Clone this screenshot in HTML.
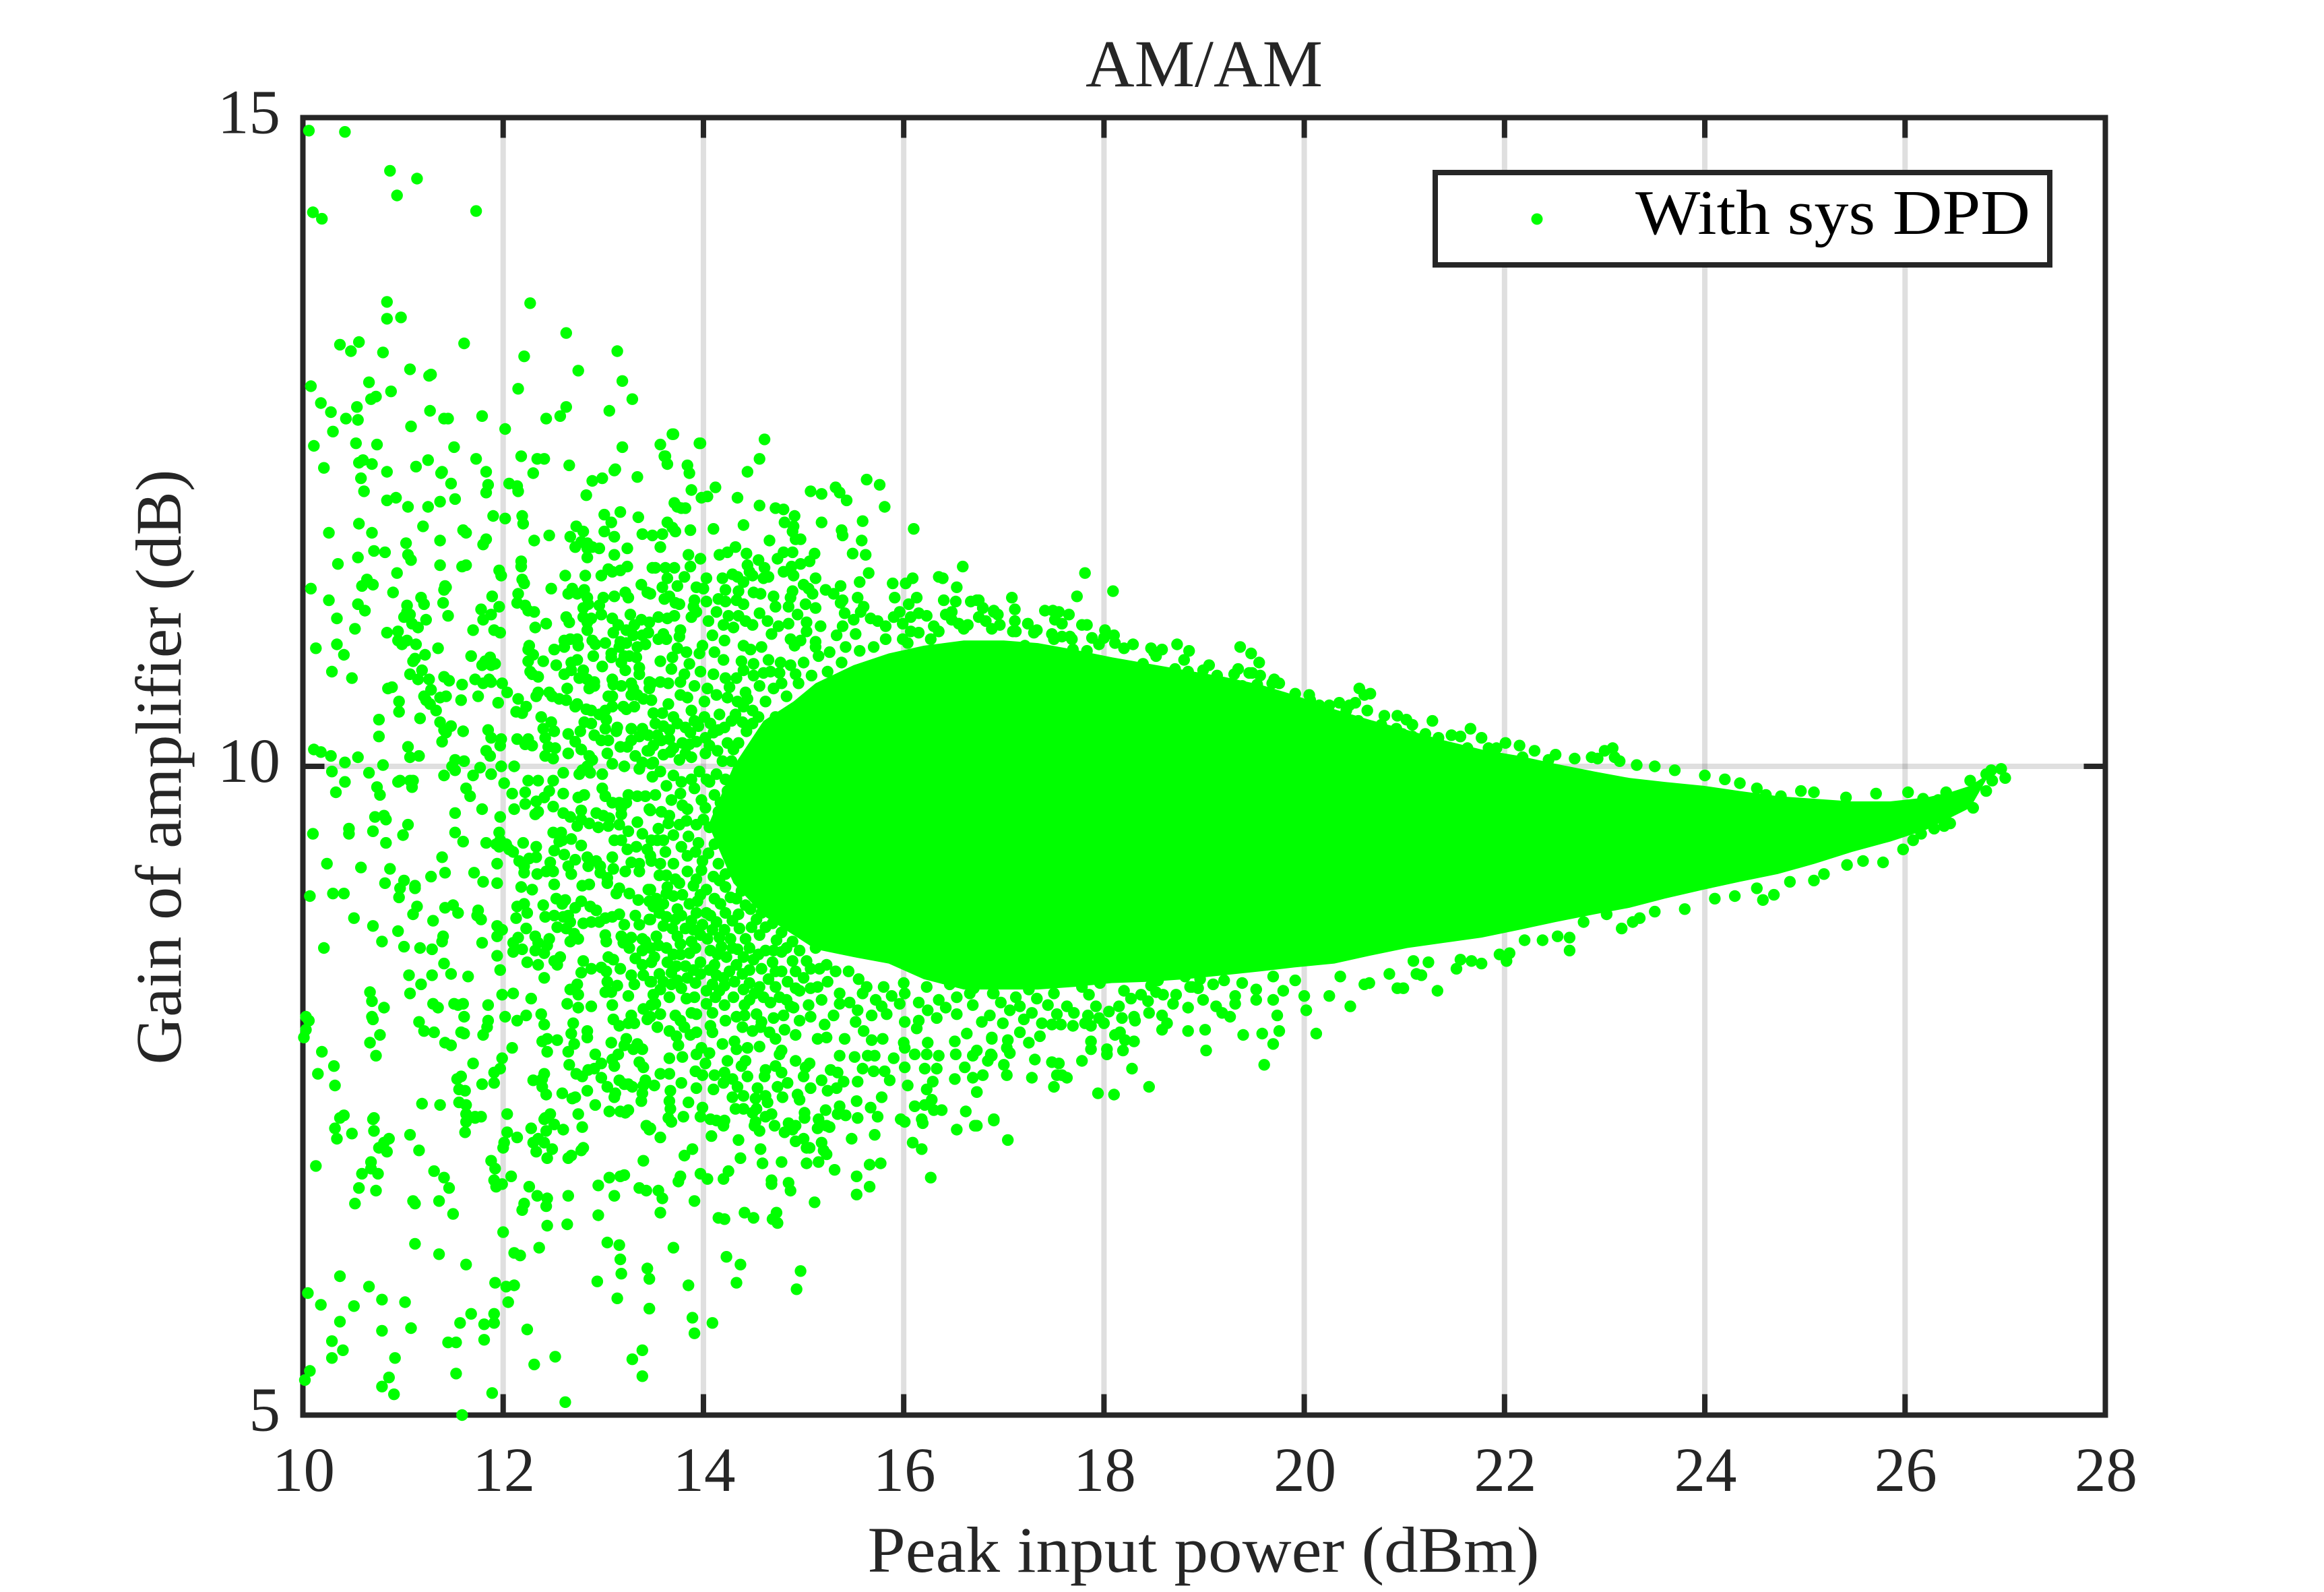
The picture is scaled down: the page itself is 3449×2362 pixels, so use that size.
<!DOCTYPE html>
<html lang="en">
<head>
<meta charset="utf-8">
<title>AM/AM</title>
<style>
html,body{margin:0;padding:0;background:#fff}
svg{display:block}
text{font-family:"Liberation Serif",serif;fill:#262626}
</style>
</head>
<body>
<svg id="chart" xmlns="http://www.w3.org/2000/svg" width="3449" height="2362" viewBox="0 0 3449 2362">
<rect x="0" y="0" width="3449" height="2362" fill="#fff"/>
<g id="grid"></g>
<rect x="449.5" y="174.5" width="2675" height="1925" fill="none" stroke="#262626" stroke-width="8"/>
<g id="ticks"></g>
<g id="tick-labels"></g>
<path id="core" fill="#00ff00" stroke="none"/>
<g id="points" fill="#00ff00"></g>
<text x="1787" y="128" font-size="100" text-anchor="middle" textLength="352" lengthAdjust="spacingAndGlyphs">AM/AM</text>
<text x="1786" y="2332" font-size="96" text-anchor="middle" textLength="997" lengthAdjust="spacingAndGlyphs">Peak input power (dBm)</text>
<text transform="translate(268,1138) rotate(-90)" font-size="96" text-anchor="middle" textLength="883" lengthAdjust="spacingAndGlyphs">Gain of amplifier (dB)</text>
<g>
<rect x="2130" y="256" width="912" height="137" fill="#fff" stroke="#262626" stroke-width="8"/>
<circle cx="2281" cy="325" r="8.5" fill="#00ff00"/>
<text x="2427" y="347" font-size="94" style="fill:#000" textLength="586" lengthAdjust="spacingAndGlyphs">With sys DPD</text>
</g>
</svg>
<script>
const xTicks=[10,12,14,16,18,20,22,24,26,28];
const xTickLabels=["10","12","14","16","18","20","22","24","26","28"];
const yTicks=[5,10,15];
const yTickLabels=["5","10","15"];
const coreX=[14.05,14.3,14.6,14.9,15.12,15.5,15.85,16.2,16.6,17.0,17.34,17.7,18.08,18.45,18.82,19.2,19.56,19.9,20.3,20.65,21.03,21.4,21.77,22.15,22.51,22.9,23.25,23.6,23.99,24.35,24.73,25.1,25.47,25.85,26.21,26.45,26.65,26.85,26.65,26.21,25.85,25.47,25.1,24.73,24.35,23.99,23.6,23.25,22.9,22.51,22.15,21.77,21.4,21.03,20.65,20.3,19.9,19.56,19.2,18.82,18.45,18.08,17.7,17.34,17.0,16.6,16.2,15.85,15.5,15.12,14.9,14.6,14.3];
const coreTop=[9.55,10.0,10.35,10.5,10.64,10.78,10.87,10.93,10.97,10.97,10.95,10.9,10.84,10.79,10.74,10.69,10.63,10.55,10.44,10.36,10.28,10.2,10.13,10.08,10.02,9.96,9.91,9.88,9.85,9.81,9.77,9.75,9.73,9.73,9.76,9.8,9.85,9.95];
const coreBottom=[9.68,9.51,9.42,9.34,9.25,9.17,9.11,9.05,8.98,8.91,8.86,8.8,8.74,8.68,8.64,8.6,8.54,8.48,8.45,8.42,8.39,8.36,8.34,8.33,8.3,8.28,8.28,8.28,8.36,8.48,8.53,8.59,8.7,8.85,9.1];

const topOutliers=[[10.06,14.9],[10.42,14.89],[10.87,14.59],[11.14,14.53],[10.94,14.4],[11.73,14.28],[10.1,14.27],[10.19,14.22],[10.84,13.58],[10.84,13.45],[10.98,13.46],[12.27,13.57],[12.63,13.34],[10.37,13.25],[10.56,13.27],[10.48,13.2],[10.8,13.19],[11.61,13.26],[12.21,13.16],[13.14,13.2],[12.75,13.05],[11.07,13.06],[11.28,13.02],[11.26,13.01],[10.66,12.96],[12.15,12.91],[13.19,12.97],[10.08,12.93],[10.88,12.89],[13.29,12.83],[10.18,12.8],[10.68,12.83],[10.73,12.85],[10.28,12.73],[10.54,12.77],[11.27,12.74],[12.63,12.77],[12.57,12.7],[13.06,12.74],[10.43,12.68],[10.55,12.67],[11.41,12.68],[11.45,12.68],[11.79,12.7],[12.43,12.68],[10.3,12.58],[11.08,12.62],[12.02,12.6],[13.69,12.56],[13.97,12.49],[13.57,12.48],[13.19,12.46],[11.51,12.46],[10.11,12.47],[10.53,12.49],[10.74,12.48],[13.62,12.39],[13.64,12.33],[13.84,12.32],[12.18,12.39],[12.34,12.37],[12.41,12.37],[12.66,12.32],[11.73,12.37],[11.25,12.36],[11.13,12.31],[10.56,12.34],[10.6,12.36],[10.69,12.33],[10.21,12.3],[10.84,12.27],[11.39,12.27],[11.83,12.27],[12.3,12.26],[13.12,12.29]];

const leftUpperBand=[[11.38,12.26],[11.48,12.18],[11.85,12.17],[11.83,12.11],[13.11,12.28],[13.34,12.23],[12.99,12.22],[12.89,12.2],[12.83,12.09],[10.58,12.22],[10.61,12.12],[12.06,12.18],[12.14,12.16],[12.15,12.12],[10.84,12.05],[10.93,12.07],[11.05,12],[11.25,12],[11.37,12.04],[11.52,12.06],[11.9,11.93],[12.02,11.91],[12.19,11.93],[12.2,11.87],[13.01,11.94],[13.08,11.88],[13.17,11.96],[13.35,11.92],[10.56,11.87],[10.26,11.8],[10.69,11.8],[11.2,11.85],[11.6,11.82],[11.63,11.8],[11.83,11.75],[11.8,11.71],[11.37,11.74],[11.03,11.72],[12.31,11.74],[12.46,11.78],[12.73,11.85],[12.8,11.81],[12.67,11.77],[13.01,11.81],[13.11,11.77],[13.39,11.79],[13.49,11.78],[12.72,11.69],[12.78,11.73],[12.84,11.72],[12.84,11.68],[12.89,11.69],[12.96,11.68],[13.24,11.68],[13.11,11.63],[12.84,11.61],[10.71,11.66],[10.82,11.65],[10.55,11.61],[11.05,11.63],[11.08,11.59],[10.35,11.56],[11.37,11.55],[11.59,11.54],[11.63,11.55],[12.18,11.58],[12.18,11.54],[11.96,11.51],[11.98,11.47],[10.94,11.49],[12.62,11.47],[12.82,11.47],[12.98,11.47],[13.05,11.52],[13.09,11.5],[13.17,11.51],[13.24,11.54],[13.49,11.53],[10.64,11.44],[10.59,11.39],[10.7,11.4],[11.42,11.39],[11.43,11.38],[11.41,11.36],[12.19,11.44],[12.21,11.41],[12.15,11.33],[12.14,11.26],[10.08,11.37],[10.9,11.34],[12.48,11.37],[12.69,11.37],[12.65,11.33],[12.74,11.33],[12.81,11.36],[12.84,11.3],[12.85,11.25],[12.8,11.22],[13,11.3],[13.11,11.31],[13.22,11.34],[13.25,11.3],[13.38,11.4],[13.44,11.34],[10.26,11.28],[10.55,11.25],[10.62,11.2],[11.18,11.3],[11.21,11.25],[11.04,11.24],[11.04,11.19],[11.01,11.15],[11.07,11.17],[11.4,11.26],[11.45,11.16],[11.89,11.31],[11.96,11.23],[11.78,11.21],[11.88,11.17],[11.8,11.13],[12.22,11.24],[12.25,11.2],[12.31,11.19],[12.96,11.24],[12.98,11.17],[13.27,11.17],[13.09,11.14],[13.15,11.09],[12.63,11.15],[12.66,11.11],[12.8,11.15],[12.88,11.14],[12.84,11.11],[12.84,11.05],[10.34,11.14],[10.52,11.06],[11.23,11.13],[11.09,11.1],[11.15,11.07],[11.7,11.05],[11.91,11.05],[11.97,11.03],[12.32,11.07],[12.43,11.1],[13.38,11.13],[13.46,11.11],[13.31,11.09],[13.23,11.05],[13.3,11.01],[13.1,11.03],[13.45,11.03],[13.39,11.01],[10.84,11.03],[10.95,11.04],[10.95,10.97],[11.04,10.97],[10.99,10.94],[11.13,10.94],[10.13,10.91],[10.34,10.94],[10.41,10.86],[11.35,10.91],[11.22,10.86],[11.12,10.83],[11.1,10.81],[11.68,10.85],[11.87,10.84],[11.82,10.81],[11.79,10.78],[11.92,10.79],[11.88,10.78],[12.26,10.93],[12.25,10.9],[12.3,10.86],[12.25,10.81],[12.51,10.9],[12.61,10.92],[12.61,10.97],[12.67,10.98],[12.74,10.98],[12.75,10.93],[12.89,10.97],[12.92,10.94],[13.02,10.95],[13.17,10.96],[13.23,10.95],[13.16,10.92],[13.34,10.92],[13.42,10.94],[12.9,10.85],[13.08,10.87],[13.08,10.84],[13.21,10.85],[13.26,10.85],[13.33,10.84],[13.18,10.8],[12.4,10.81],[12.53,10.78],[12.74,10.82],[12.68,10.8],[12.68,10.74],[12.99,10.77],[13.22,10.74],[13.36,10.76],[13.36,10.71],[10.29,10.73],[10.49,10.68],[11.07,10.71],[11.19,10.74],[11.15,10.67],[11.26,10.67],[11.41,10.69],[11.46,10.66],[11.59,10.63],[11.72,10.67],[11.8,10.64],[11.86,10.67],[11.88,10.65],[11.99,10.64],[12.04,10.57],[12.27,10.73],[12.29,10.71],[12.35,10.69],[12.61,10.71],[12.8,10.74],[12.76,10.68],[12.84,10.67],[12.91,10.65],[12.86,10.6],[12.91,10.62],[12.64,10.6],[13.09,10.67],[13.1,10.63],[13.18,10.62],[13.28,10.64],[13.3,10.6],[13.46,10.65],[13.46,10.6],[10.85,10.6],[10.89,10.61],[11.28,10.59],[11.21,10.54],[11.23,10.51],[11.27,10.48],[11.33,10.43],[11.37,10.53],[11.43,10.54],[11.58,10.51],[11.75,10.54],[11.95,10.49],[10.96,10.5],[10.96,10.42],[11.17,10.37],[10.76,10.36],[10.76,10.23],[12.15,10.52],[12.23,10.46],[12.13,10.42],[12.19,10.41],[12.35,10.57],[12.33,10.54],[12.46,10.57],[12.49,10.54],[12.56,10.52],[12.63,10.51],[12.74,10.48],[12.72,10.46],[12.83,10.44],[12.88,10.43],[12.96,10.4],[13.02,10.43],[13.09,10.46],[13.2,10.46],[13.23,10.44],[13.31,10.46],[13.05,10.54],[13.09,10.54],[13.28,10.55],[13.34,10.55],[13.4,10.52],[12.38,10.38],[12.4,10.29],[12.48,10.34],[12.51,10.27],[12.42,10.22],[12.45,10.15],[12.52,10.14],[12.65,10.25],[12.65,10.1],[12.81,10.34],[12.88,10.33],[12.77,10.27],[12.72,10.19],[12.78,10.13],[12.86,10.08],[12.89,10.05],[12.91,10.24],[12.98,10.2],[13.05,10.2],[13.03,10.36],[13.02,10.29],[13.14,10.3],[13.13,10.27],[13.28,10.29],[13.39,10.29],[13.36,10.23],[13.28,10.2],[13.45,10.24],[11.37,10.34],[11.48,10.31],[11.41,10.28],[11.43,10.26],[11.6,10.27],[11.39,10.19],[11.85,10.28],[11.88,10.22],[11.98,10.21],[11.97,10.16],[11.83,10.12],[11.87,10.08],[12.14,10.21],[12.25,10.21],[12.22,10.17],[12.29,10.16],[11.05,10.15],[11.07,10.07],[11.16,10.08],[10.11,10.13],[10.18,10.11],[10.28,10.08],[10.42,10.03],[10.55,10.07],[10.8,10.01],[11.52,10.05],[11.61,10.04],[11.49,10],[11.52,9.97],[11.77,9.99],[11.98,10],[12.11,10],[11.88,9.94],[12.42,10.08],[12.5,10.06],[12.6,9.95],[12.99,9.94],[13.09,10.02],[13.04,10.1],[13.17,10.15],[13.24,10.15],[13.32,10.08],[13.44,10.12],[13.21,10],[13.36,9.98],[13.39,10.03],[13.48,10.02],[12.79,9.97],[12.87,9.95],[12.76,9.94],[12.84,10],[10.29,9.96],[10.66,9.95],[11.41,9.93],[11.7,9.93]];

const leftMiddleBand=[[10.42,9.88],[10.33,9.8],[10.74,9.84],[10.77,9.78],[10.95,9.88],[10.97,9.89],[11.07,9.89],[11.1,9.89],[11.09,9.84],[11.63,9.83],[11.67,9.77],[12.01,9.87],[12.09,9.79],[12.22,9.8],[12.25,9.89],[12.35,9.89],[12.22,9.71],[12.33,9.73],[11.52,9.64],[11.79,9.67],[11.97,9.61],[12.11,9.67],[12.35,9.65],[12.32,9.63],[12.41,9.76],[12.46,9.81],[12.5,9.89],[12.6,9.79],[12.75,9.76],[12.81,9.78],[12.99,9.83],[13.02,9.77],[13.09,9.72],[12.5,9.69],[12.6,9.64],[12.67,9.61],[12.74,9.54],[12.78,9.66],[12.78,9.59],[12.86,9.56],[12.95,9.53],[12.93,9.64],[13,9.62],[13.06,9.6],[13.05,9.54],[13.16,9.72],[13.18,9.63],[13.23,9.72],[13.25,9.78],[13.34,9.77],[13.42,9.77],[13.34,9.57],[13.16,9.55],[13.25,9.5],[13.39,9.48],[13.11,9.43],[13.18,9.43],[13.46,9.67],[13.18,9.68],[10.72,9.61],[10.81,9.62],[10.83,9.59],[11.05,9.55],[11,9.47],[10.46,9.52],[10.46,9.48],[10.1,9.48],[10.7,9.5],[10.83,9.41],[11.52,9.49],[11.6,9.42],[11.83,9.41],[11.96,9.49],[11.93,9.4],[11.97,9.43],[12.03,9.4],[11.96,9.38],[12.06,9.36],[12.1,9.34],[12.16,9.27],[12.21,9.23],[12.21,9.18],[12.2,9.41],[12.33,9.38],[12.33,9.3],[12.26,9.29],[12.34,9.17],[12.5,9.49],[12.58,9.49],[12.56,9.42],[12.68,9.44],[12.59,9.43],[12.51,9.35],[12.61,9.32],[12.78,9.39],[12.72,9.28],[12.65,9.23],[12.68,9.17],[12.84,9.3],[12.85,9.23],[12.93,9.27],[12.97,9.23],[12.97,9.18],[13.04,9.14],[13.04,9.1],[13.09,9.3],[13.1,9.21],[13.24,9.36],[13.33,9.38],[13.28,9.26],[13.36,9.25],[13.22,9.19],[13.36,9.19],[13.44,9.36],[13.48,9.43],[13.48,9.27],[12.47,9.26],[12.43,9.19],[12.5,9.19],[12.51,9.09],[11.39,9.3],[11.42,9.18],[11.28,9.15],[11.71,9.18],[11.94,9.25],[11.8,9.11],[11.94,9.1],[10.24,9.25],[10.58,9.22],[10.87,9.21],[10.82,9.1],[11.01,9.12],[10.97,9.06],[10.96,8.99],[11.12,9.08],[11.12,9.06],[10.07,9],[10.3,9.02],[10.41,9.02],[12.18,9.07],[12.29,9.05],[12.79,9.08],[12.86,9.09],[13.13,9.02],[13.16,9.06],[13.26,9.02],[13.35,8.97],[13.45,9.05],[12.53,8.98],[12.62,8.97],[12.59,8.94],[12.4,8.93],[12.21,8.94],[12.14,8.92],[12.24,8.87],[12.13,8.83],[11.14,8.92],[11.1,8.86],[11.3,8.81],[11.42,8.91],[11.5,8.93],[11.55,8.87],[11.75,8.89],[11.74,8.85],[11.78,8.82],[10.51,8.83],[10.7,8.77],[10.95,8.73],[10.79,8.65],[11.01,8.61],[11.17,8.6],[11.29,8.59],[11.4,8.69],[11.39,8.65],[11.79,8.64],[11.94,8.77],[11.99,8.74],[11.94,8.69],[11.94,8.54],[11.97,8.43],[10.21,8.6],[12.78,8.96],[12.72,8.91],[12.87,8.92],[12.93,8.89],[12.51,8.85],[12.65,8.85],[12.42,8.84],[12.6,8.84],[12.67,8.8],[12.54,8.76],[12.63,8.75],[12.71,8.71],[12.75,8.67],[12.67,8.65],[12.8,8.79],[12.88,8.8],[12.96,8.8],[13.02,8.83],[13.09,8.84],[13.16,8.86],[13.21,8.78],[13.32,8.85],[13.36,8.78],[13.46,8.82],[12.23,8.75],[12.32,8.69],[12.15,8.68],[12.1,8.64],[12.19,8.59],[12.1,8.57],[12.35,8.64],[12.46,8.67],[12.44,8.62],[12.32,8.58],[12.41,8.56],[13.02,8.7],[13.03,8.65],[13.18,8.69],[13.2,8.64],[13.28,8.68],[13.26,8.6],[13.39,8.67],[13.42,8.65],[13.39,8.58],[13.32,8.52],[13.39,8.47],[13.48,8.49],[12.24,8.49],[12.35,8.47],[12.57,8.53],[12.51,8.5],[12.54,8.47],[12.8,8.5],[13.05,8.53],[13.1,8.51],[12.88,8.44],[12.98,8.45],[13.03,8.42],[13.17,8.44],[11.41,8.48],[11.29,8.39],[11.48,8.4],[11.65,8.38],[11.06,8.39],[11.18,8.32],[11.07,8.25],[12.78,8.41],[12.41,8.37],[13.28,8.39],[13.4,8.39],[13.48,8.34],[13.31,8.32],[13.04,8.34],[12.74,8.32],[12.67,8.28],[12.75,8.24],[13.02,8.26],[13.08,8.26],[13.14,8.31],[13.25,8.23],[10.67,8.26],[10.69,8.19],[10.81,8.14],[11.99,8.24],[12.1,8.25],[12.28,8.21],[11.85,8.16],[11.3,8.17],[11.35,8.14],[11.51,8.17],[11.6,8.17],[11.55,8.16],[12.64,8.17],[12.75,8.14],[12.88,8.15],[13.09,8.16],[13.4,8.13],[13.48,8.16]];

const leftLowerBand=[[10.03,8.07],[10.06,8.04],[10.03,7.97],[10.01,7.91],[10.69,8.07],[10.7,8.05],[10.77,7.93],[10.67,7.87],[10.73,7.77],[11.61,8.07],[11.16,8.03],[11.21,7.96],[11.31,7.95],[11.85,8.04],[11.84,7.99],[11.8,7.93],[11.58,7.95],[11.61,7.94],[11.42,7.87],[11.48,7.85],[12.02,8.07],[12.14,8.04],[12.23,8.08],[12.38,8.09],[12.41,8.01],[12.7,8.02],[12.68,7.94],[12.84,7.96],[12.84,7.91],[13.1,8.05],[13.16,8],[13.28,8.08],[13.25,8.02],[13.31,8.02],[13.44,8.05],[12.39,7.88],[12.44,7.9],[12.54,7.89],[12.71,7.86],[12.65,7.8],[12.44,7.8],[13.23,7.9],[13.21,7.85],[13.3,7.82],[13.34,7.86],[13.39,7.82],[13.08,7.87],[12.09,7.83],[11.99,7.75],[11.97,7.67],[11.91,7.64],[11.91,7.56],[11.7,7.71],[11.79,7.55],[10.19,7.8],[10.31,7.69],[10.15,7.63],[10.32,7.54],[11.58,7.61],[11.54,7.59],[11.56,7.51],[11.62,7.5],[12.92,7.78],[12.98,7.71],[13.15,7.78],[13.09,7.74],[13.11,7.69],[12.66,7.7],[13.36,7.72],[13.4,7.68],[12.73,7.63],[12.79,7.61],[12.85,7.66],[12.91,7.67],[12.98,7.6],[12.41,7.63],[12.39,7.59],[12.3,7.58],[12.39,7.53],[12.43,7.47],[13.16,7.58],[13.21,7.55],[13.25,7.55],[13.29,7.53],[13.04,7.53],[13.12,7.48],[13.11,7.45],[13.42,7.58],[13.4,7.54],[13.39,7.48],[13.38,7.42],[12.59,7.48],[12.84,7.5],[12.69,7.44],[12.72,7.45],[12.92,7.39],[11.19,7.4],[11.37,7.39],[11.56,7.41],[11.63,7.39],[13.06,7.34],[13.17,7.34],[13.22,7.33],[13.25,7.35],[12.75,7.32],[12.47,7.32],[12.42,7.29],[10.37,7.29],[10.41,7.31],[10.32,7.21],[10.49,7.17],[10.34,7.13],[10.7,7.28],[10.71,7.29],[10.71,7.19],[10.86,7.13],[10.81,7.1],[10.76,7.06],[10.84,7.03],[11.07,7.16],[11.16,7.04],[11.63,7.32],[11.72,7.3],[11.78,7.3],[11.72,7.29],[11.63,7.26],[11.62,7.18],[12.04,7.32],[12.04,7.18],[12.14,7.14],[12.01,7.1],[12,7.06],[12.28,7.21],[12.43,7.19],[12.51,7.24],[12.6,7.2],[12.41,7.28],[12.79,7.22],[12.35,7.13],[12.3,7.1],[12.41,7.1],[12.49,7.05],[12.33,7.03],[12.44,6.98],[12.65,6.98],[12.68,7],[12.8,7.06],[12.78,7.04],[13.43,7.23],[13.46,7.2],[13.4,6.96],[10.13,6.92],[10.68,6.95],[10.68,6.9],[10.75,6.86],[10.59,6.86],[11.31,6.88],[11.41,6.83],[11.46,6.75],[11.88,6.96],[11.92,6.9],[12.08,6.84],[11.91,6.81],[11.93,6.76],[11.99,6.78],[12.26,6.76],[12.34,6.69],[12.44,6.67],[12.43,6.61],[12.65,6.69],[12.95,6.77],[13.06,6.83],[13.17,6.84],[13.21,6.85],[13.36,6.75],[13.43,6.73],[13.11,6.69],[10.56,6.75],[10.73,6.73],[10.52,6.63],[11.1,6.65],[11.12,6.63],[11.36,6.65],[11.5,6.55],[12.21,6.63],[12.19,6.58],[12.95,6.54],[12.44,6.46],[12.64,6.47],[12,6.41],[11.12,6.32],[11.36,6.24],[11.63,6.16],[12.11,6.25],[12.17,6.23],[12.36,6.29],[13.04,6.33],[13.16,6.31],[13.17,6.2],[13.18,6.09],[13.44,6.13],[13.46,6.05],[10.37,6.07],[10.66,5.99],[10.05,5.94],[10.18,5.85],[10.79,5.89],[11.02,5.87],[10.51,5.84],[11.92,6.02],[12.03,5.99],[12.11,6],[12.05,5.87],[12.94,6.03],[13.14,5.9],[13.46,5.82],[11.68,5.78],[11.91,5.78],[11.57,5.71],[11.81,5.7],[11.91,5.71],[10.37,5.72],[10.79,5.65],[11.08,5.67],[12.24,5.66],[11.45,5.56],[11.53,5.56],[11.81,5.58],[10.29,5.57],[10.4,5.5],[10.29,5.44],[10.92,5.44],[12.52,5.45],[12.31,5.39],[13.39,5.5],[13.29,5.43],[13.39,5.3],[10.07,5.34],[10.02,5.27],[10.86,5.29],[10.79,5.22],[10.91,5.16],[11.53,5.32],[11.89,5.17],[12.62,5.1],[11.59,5]];

const midUpperBand=[[13.7,12.56],[13.61,12.39],[13.96,12.49],[13.86,12.26],[14.61,12.52],[14.56,12.37],[14.44,12.27],[14.12,12.15],[13.88,12.13],[13.98,12.07],[14.04,12.08],[14.34,12.07],[14.56,12.01],[15.07,12.12],[15.18,12.1],[15.32,12.15],[15.36,12.11],[15.43,12.05],[15.63,12.21],[15.76,12.17],[15.81,12],[13.71,12.03],[13.74,12],[13.78,11.99],[13.82,11.99],[14.72,11.99],[14.8,11.98],[14.91,11.93],[14.81,11.88],[14.9,11.85],[14.89,11.81],[14.92,11.75],[14.97,11.75],[15.18,11.88],[15.38,11.82],[15.39,11.78],[15.59,11.89],[15.58,11.74],[16.1,11.83],[13.64,11.88],[13.69,11.84],[13.72,11.81],[13.87,11.82],[14.1,11.83],[14.4,11.86],[13.59,11.79],[13.57,11.69],[14.66,11.74],[14.32,11.69],[14.24,11.65],[14.16,11.63],[14.43,11.64],[13.85,11.63],[13.97,11.6],[13.87,11.54],[14.74,11.6],[14.8,11.65],[14.89,11.65],[15.11,11.64],[15.06,11.58],[14.97,11.56],[15.49,11.64],[15.62,11.63],[16.59,11.54],[13.52,11.53],[13.62,11.53],[13.71,11.53],[13.64,11.45],[13.81,11.46],[14.55,11.59],[14.44,11.55],[14.61,11.53],[14.46,11.5],[14.49,11.47],[14.6,11.45],[14.65,11.46],[14.88,11.54],[14.8,11.5],[14.9,11.47],[15.65,11.49],[15.56,11.42],[14.03,11.45],[14.19,11.45],[14.29,11.48],[14.34,11.46],[14.4,11.42],[15.89,11.41],[16.09,11.45],[16.02,11.41],[16.35,11.46],[16.39,11.45],[16.53,11.38],[13.47,11.33],[13.59,11.38],[13.74,11.39],[13.93,11.38],[14,11.37],[14.22,11.36],[14.35,11.35],[14.5,11.34],[14.57,11.33],[14.7,11.31],[14.72,11.23],[14.89,11.35],[15,11.4],[15.12,11.45],[15.05,11.37],[15.09,11.33],[14.87,11.3],[14.85,11.23],[15.02,11.25],[15.12,11.22],[15.22,11.36],[15.3,11.33],[15.37,11.39],[15.54,11.3],[15.6,11.23],[15.39,11.28],[15.37,11.26],[15.57,11.19],[15.91,11.3],[16.13,11.3],[16.05,11.25],[16.4,11.28],[16.52,11.27],[16.67,11.27],[16.73,11.28],[16.79,11.22],[16.9,11.19],[13.66,11.31],[13.61,11.29],[13.72,11.26],[13.76,11.25],[13.91,11.28],[14.03,11.27],[14.15,11.29],[14.22,11.27],[14.33,11.28],[14.4,11.25],[14.25,11.16],[13.9,11.23],[13.93,11.19],[13.88,11.15],[14.13,11.19],[13.55,11.15],[13.64,11.14],[13.71,11.16],[14.05,11.12],[14.35,11.16],[14.42,11.12],[14.49,11.09],[14.56,11.18],[14.64,11.12],[14.75,11.08],[14.85,11.1],[14.94,11.17],[15.03,11.11],[15.17,11.08],[15.03,11.04],[15.41,11.18],[15.5,11.13],[15.67,11.14],[15.74,11.12],[15.82,11.08],[15.9,11.15],[15.96,11.19],[15.99,11.1],[16.07,11.15],[16.15,11.18],[16.23,11.16],[16.42,11.17],[16.48,11.19],[16.48,11.13],[16.55,11.1],[16.64,11.09],[16.75,11.15],[16.82,11.12],[13.77,11.05],[13.76,11],[13.6,11.02],[13.55,10.98],[13.63,10.98],[14.09,11.01],[14.2,11.09],[14.3,11.07],[14.21,10.97],[14.68,11.02],[14.87,10.98],[14.97,10.97],[15.12,10.96],[15.12,10.92],[14.91,10.93],[15.39,11.08],[15.33,11.01],[15.42,10.92],[15.52,11.02],[16.07,11.04],[15.99,10.98],[16.04,10.95],[16.35,11.04],[16.27,10.98],[13.74,10.91],[13.69,10.84],[13.83,10.88],[13.57,10.81],[13.99,10.93],[13.96,10.87],[14.11,10.88],[14.2,10.82],[14.4,10.93],[14.47,10.9],[14.58,10.92],[15.26,10.88],[14.77,10.8],[14.65,10.82],[14.38,10.81],[13.68,10.75],[13.86,10.79],[13.97,10.73],[13.81,10.71],[14.1,10.71],[14.22,10.68],[14.33,10.68],[14.26,10.61],[14.5,10.79],[14.5,10.7],[14.4,10.74],[13.48,10.64],[13.57,10.65],[13.65,10.64],[13.77,10.65],[13.91,10.62],[14.04,10.6],[14.13,10.55],[14.24,10.53],[13.84,10.53],[13.65,10.48],[13.48,10.51],[13.77,10.55],[14.42,10.57],[14.34,10.5],[14.4,10.46],[14.49,10.43],[14.01,10.5],[13.88,10.43],[14.01,10.38],[13.91,10.35],[13.7,10.38],[14.16,10.4],[13.59,10.41],[13.5,10.41],[14.32,10.4],[14.21,10.3],[14.39,10.34],[14.49,10.33],[13.87,10.26],[13.66,10.28],[13.54,10.24],[13.66,10.21],[13.46,10.12],[13.79,10.18],[14.1,10.26],[14.02,10.22],[14.24,10.18],[14.35,10.18],[13.67,10.11],[13.6,10.09],[13.86,10.17],[13.88,10.07],[13.76,10.05],[13.5,10.03],[14.02,10.1],[14.19,10.04],[14.28,10.04],[14.87,10.78],[15,10.8],[15.15,10.85],[14.92,10.71],[14.78,10.64],[14.67,10.73],[14.56,10.62],[14.83,10.54],[14.44,10.52]];

const midDenseBand=[[13.7,9.93],[13.88,9.9],[14.06,9.88],[14.22,9.9],[14.4,9.91],[13.68,9.74],[13.77,9.79],[13.91,9.83],[14.11,9.78],[14.24,9.81],[14.38,9.79],[13.47,9.66],[13.58,9.65],[13.66,9.62],[13.84,9.67],[14.02,9.68],[14.15,9.65],[13.65,9.56],[13.83,9.58],[13.93,9.55],[14.06,9.53],[13.54,9.43],[13.6,9.43],[13.7,9.47],[13.85,9.46],[13.95,9.41],[14.11,9.4],[13.47,9.31],[13.57,9.25],[13.7,9.25],[13.84,9.31],[13.99,9.27],[14.15,9.25],[13.63,9.16],[13.72,9.13],[13.84,9.19],[13.98,9.2],[14.1,9.15],[14.22,9.17],[13.47,9.05],[13.64,9.07],[13.63,9.02],[13.79,9.01],[13.9,9.08],[14.03,9.05],[14.22,9.07],[14.33,8.98],[14.5,9.01],[13.46,8.96],[13.5,8.92],[13.6,8.94],[13.74,8.9],[13.86,8.94],[13.94,8.96],[14.03,8.87],[14.17,8.94],[14.42,8.93],[14.58,8.87],[13.47,8.82],[13.63,8.84],[13.78,8.85],[13.88,8.81],[13.99,8.78],[14.13,8.8],[14.29,8.81],[14.53,8.82],[14.69,8.79],[13.53,8.69],[13.69,8.75],[13.74,8.69],[13.9,8.74],[13.88,8.65],[14.04,8.67],[14.16,8.68],[14.27,8.67],[14.42,8.67],[14.56,8.7],[14.78,8.72],[14.89,8.65],[13.55,8.62],[13.63,8.6],[13.77,8.63],[13.77,8.55],[13.86,8.56],[13.97,8.49],[14.14,8.55],[14.23,8.53],[14.34,8.59],[14.46,8.6],[14.62,8.58],[14.78,8.57],[14.96,8.58],[15.12,8.6],[13.51,8.53],[13.64,8.49],[13.56,8.4],[13.68,8.41],[13.82,8.46],[13.9,8.43],[13.84,8.37],[14.11,8.47],[14.13,8.39],[14.26,8.42],[14.39,8.4],[14.5,8.51],[14.58,8.44],[14.65,8.36],[14.69,8.49],[14.84,8.34],[14.78,8.42],[15,8.37],[15.16,8.44],[15.45,8.42]];

const midFillBand=[[13.52,10.33],[13.6,10.31],[13.74,10.33],[13.82,10.3],[13.95,10.31],[14.07,10.33],[14.15,10.28],[14.28,10.35],[14.43,10.27],[14.55,10.38],[13.5,10.16],[13.58,10.2],[13.7,10.14],[13.82,10.1],[13.93,10.19],[14.06,10.16],[14.14,10.12],[14.3,10.13],[13.49,9.92],[13.57,9.96],[13.63,9.85],[13.78,9.88],[13.96,9.96],[14.03,9.9],[14.13,9.94],[13.52,9.78],[13.79,9.7],[13.98,9.74],[14.17,9.72],[13.55,9.52],[13.76,9.55],[14,9.59],[13.62,9.34],[13.78,9.38],[13.92,9.34],[14.05,9.33],[13.56,9.16],[13.76,9.1],[13.93,9.13],[14.16,9.12],[13.53,8.98],[13.7,9],[13.97,9.01],[14.11,8.98],[14.27,8.99],[14.38,9.04],[13.56,8.87],[13.72,8.82],[13.93,8.87],[14.07,8.85],[14.22,8.87],[14.35,8.86],[14.47,8.9],[13.6,8.77],[13.82,8.75],[13.97,8.7],[14.09,8.74],[14.21,8.74],[14.36,8.75],[14.48,8.76],[14.62,8.76],[14.73,8.66],[14.83,8.6],[13.47,8.6],[13.7,8.55],[13.92,8.6],[14.07,8.58],[14.18,8.61],[14.29,8.6],[14.4,8.53],[14.55,8.55],[14.7,8.58],[14.89,8.5],[15.03,8.5],[13.73,8.46],[13.97,8.4],[14.06,8.43],[14.2,8.37],[14.33,8.47],[14.46,8.43],[14.72,8.42],[14.92,8.42],[15.07,8.44],[15.23,8.47],[13.6,8.34],[13.74,8.35],[13.92,8.33],[14.09,8.32],[14.31,8.34],[14.46,8.33],[14.56,8.3],[14.72,8.3],[14.92,8.29],[15.07,8.29],[15.24,8.34],[15.32,8.42],[15.55,8.36],[15.63,8.3],[15.8,8.3],[16.0,8.33],[16.23,8.3],[16.46,8.32],[16.7,8.29],[13.5,8.24],[13.83,8.21],[14.12,8.22],[14.3,8.22],[14.46,8.2],[14.76,8.22],[14.9,8.14],[15.18,8.2],[15.46,8.18],[15.54,8.12],[15.78,8.15],[15.96,8.17],[16.24,8.12],[16.42,8.14],[16.69,8.16],[16.97,8.18],[17.12,8.22],[17.5,8.25],[17.85,8.24],[18.2,8.27],[18.52,8.26],[18.72,8.24],[17.06,8.12],[17.28,8.1],[17.53,8.09],[17.7,8.1],[17.92,8.15],[18.18,8.06],[18.45,8.1],[14.7,10.6],[14.62,10.5],[14.72,10.38],[14.6,10.72],[14.76,10.72],[14.95,10.64],[15.08,10.7],[15.24,10.73],[15.38,10.8],[15.56,10.89],[15.7,10.92],[15.82,10.98],[16.15,11.03],[16.3,11.08],[16.6,11.06],[16.88,11.06],[17.12,11.04],[17.3,11.03],[17.5,10.98],[17.68,10.98],[17.95,10.94],[18.2,10.91],[18.5,10.88],[18.8,10.82],[19.05,10.78],[19.45,10.72],[19.75,10.64],[20.05,10.55],[20.45,10.47]];

const rightUpperEdge=[[17.81,11.49],[18.09,11.35],[17.73,11.31],[17.08,11.3],[16.79,11.22],[16.9,11.2],[17.11,11.21],[17.41,11.2],[17.49,11.2],[17.55,11.19],[17.65,11.17],[16.75,11.28],[16.94,11.17],[17.11,11.12],[17.24,11.1],[17.51,11.13],[17.58,11.1],[17.78,11.09],[17.83,11.09],[18.01,11.05],[18.1,11.01],[17.33,11.05],[16.96,11.09],[17.09,11.04],[17.48,11.02],[17.66,11],[17.58,11],[18.29,10.94],[18.47,10.91],[18.58,10.9],[18.52,10.85],[18.73,10.94],[18.85,10.89],[19.36,10.92],[19.47,10.87],[19.55,10.8],[18.11,10.95],[17.88,10.99],[18,10.99],[16.93,10.91],[17.21,10.93],[17.42,10.89],[17.83,10.89],[17.69,10.9],[17.05,10.9],[18.39,10.79],[18.47,10.72],[18.71,10.75],[18.84,10.73],[18.99,10.74],[19.13,10.7],[19.34,10.75],[19.3,10.71],[19.48,10.72],[19.56,10.7],[19.7,10.67],[19.68,10.64],[19.53,10.63],[19.21,10.63],[19.38,10.62],[18.96,10.67],[20.55,10.6],[20.66,10.56],[20.6,10.55],[19.91,10.56],[19.84,10.5],[20.06,10.51],[20.35,10.49],[20.51,10.49],[20.25,10.47],[20.15,10.47],[20.63,10.43],[20.42,10.43],[20.8,10.39],[20.93,10.39],[21.02,10.36],[21.08,10.32],[21.28,10.35],[20.54,10.35],[20.77,10.32],[20.92,10.29],[21.66,10.29],[21.77,10.22],[21.56,10.23],[21.47,10.24],[21.34,10.22],[21.21,10.25],[20.98,10.25],[21.08,10.23],[22.01,10.18],[22.15,10.16],[21.84,10.14],[21.63,10.14],[21.92,10.14],[22.3,10.12],[22.51,10.09],[22.7,10.06],[22.87,10.07],[22.93,10.06],[23.08,10.14],[23,10.12],[23.15,10.04],[23.32,10.01],[22.44,10.05],[22.18,10.07],[23.5,10],[23.7,9.97],[24,9.93],[24.2,9.9],[23.1,10.07],[24.35,9.87]];

const rightLowerEdge=[[23.17,8.75],[23.28,8.8],[22.65,8.58],[22.65,8.68],[21.77,8.48],[22.02,8.5],[22.05,8.56],[21.95,8.55],[21.52,8.44],[21.67,8.5],[21.33,8.27],[21.12,8.4],[21.17,8.39],[20.93,8.29],[20.99,8.29],[20.46,8.15],[20.25,8.23],[20.12,7.94],[20.02,8.12],[20.6,8.32],[20.65,8.33],[20.36,8.38],[20.85,8.4],[21.24,8.49],[21.09,8.5],[21.56,8.51],[22.2,8.66],[22.38,8.66],[22.53,8.69],[23.02,8.86],[22.79,8.8],[19.75,7.96],[19.69,7.86],[19.58,7.94],[19.39,7.93],[19.6,7.7],[19.73,8.08],[19.69,8.2],[19.52,8.28],[19.52,8.2],[19.79,8.27],[20,8.23],[19.31,8.23],[19.31,8.17],[19.26,8.07],[19.18,8.1],[19.12,8.15],[18.99,8.2],[18.86,8.3],[18.94,8.29],[18.59,8.24],[18.69,8.17],[18.84,8.14],[19.01,7.97],[19.02,7.81],[18.84,7.96],[18.58,8.08],[18.63,8.02],[18.58,7.97],[18.45,7.53],[18.37,8.24],[18.44,8.19],[18.3,8.07],[18.31,8.04],[18.27,8.21],[18.15,8.15],[18.05,8.11],[17.95,8.06],[18,8.02],[17.84,8.08],[17.87,8],[17.81,8.02],[17.69,8],[18.11,7.93],[18.16,7.95],[18.21,7.89],[18.3,7.88],[17.87,7.88],[17.87,7.82],[18.03,7.82],[18.03,7.78],[18.19,7.81],[17.78,7.73],[18.28,7.67],[17.48,7.72],[17.55,7.71],[17.31,7.74],[17.53,7.62],[17.58,7.62],[17.63,7.6],[17.28,7.6],[17.5,7.53],[17.94,7.48],[18.1,7.47],[17.03,7.62],[17,7.7],[17.06,7.79],[17.03,7.83],[16.88,7.77],[16.84,7.73],[16.9,7.28],[17.04,7.12],[16.73,7.23],[16.73,7.49],[17.25,7.87],[17.36,7.92],[17.38,8.02],[17.16,7.95],[17.04,7.89],[16.88,7.91],[17.48,8.01],[17.57,8.01],[17.2,8.05],[16.99,8.02],[16.86,8.08],[17.16,8.15],[17.33,8.21],[17.44,8.16],[17.63,8.15],[17.78,8.3],[17.96,8.33],[18.06,8.38],[17.72,8.38],[17.55,8.41],[16.86,8.35],[17.03,8.38],[17.25,8.28],[16.9,8.25],[18.47,8.31],[18.54,8.35],[19.09,8.32],[19.2,8.35],[19.38,8.33],[19.69,8.38],[19.91,8.35],[18.96,8.36],[18.81,8.38],[18.88,8.3],[23.5,8.88],[23.8,8.9],[24.1,8.98],[24.3,9],[23.35,8.83]];

const midLowerBand=[[13.47,8.34],[13.57,8.28],[13.66,8.22],[13.68,8.32],[13.78,8.29],[13.91,8.22],[14.03,8.27],[14.21,8.31],[14.16,8.27],[14.4,8.28],[14.51,8.25],[14.6,8.22],[14.67,8.18],[14.83,8.2],[14.96,8.27],[15.14,8.3],[15.05,8.16],[15.36,8.25],[15.59,8.25],[15.72,8.2],[15.88,8.23],[16.01,8.25],[16.15,8.18],[16.35,8.2],[16.53,8.22],[16.66,8.25],[16.89,8.25],[13.52,8.17],[13.47,8.07],[13.57,8.09],[13.72,8.08],[13.77,8.04],[13.88,8.1],[13.93,8.09],[14.03,8.17],[14.09,8.1],[14.22,8.04],[14.33,8.07],[14.41,8.16],[14.21,8.16],[14.41,8.08],[14.53,8.09],[14.58,8.03],[14.7,8.06],[14.8,8.08],[14.87,8.15],[15.07,8.07],[14.96,8.04],[15.21,8.01],[15.36,8.17],[15.3,8.08],[15.52,8.03],[15.68,8.08],[15.83,8.09],[16.01,8.03],[16.15,8.04],[16.33,8.06],[16.53,8.09],[16.78,8.03],[13.54,7.99],[13.66,7.96],[13.73,7.92],[13.81,7.99],[13.87,7.93],[13.93,7.95],[14.07,8],[14.09,7.95],[14.19,7.86],[14.31,7.88],[14.39,7.99],[14.49,7.96],[14.57,7.99],[14.66,7.95],[14.72,7.9],[14.81,7.97],[14.92,7.93],[15.14,7.9],[15.23,7.91],[15.41,7.9],[15.6,7.96],[15.68,7.89],[15.79,7.9],[16,7.87],[16.13,7.98],[16.24,7.87],[16.51,7.88],[16.63,7.94],[16.88,7.9],[13.75,7.85],[13.66,7.75],[13.79,7.76],[13.98,7.83],[13.93,7.78],[14.06,7.79],[14.02,7.71],[14.24,7.73],[14.33,7.82],[14.44,7.83],[14.42,7.73],[14.56,7.84],[14.78,7.81],[14.76,7.78],[14.92,7.73],[15.06,7.71],[15.02,7.68],[15.51,7.76],[15.36,7.77],[15.64,7.77],[15.71,7.77],[15.9,7.75],[16.01,7.83],[16.11,7.78],[16.23,7.78],[16.35,7.77],[16.52,7.78],[16.73,7.81],[16.69,7.77],[16.87,7.78],[13.57,7.63],[13.66,7.63],[13.67,7.5],[13.51,7.54],[13.78,7.56],[13.92,7.65],[13.99,7.62],[13.93,7.52],[14.11,7.62],[14.21,7.64],[14.1,7.51],[14.2,7.56],[14.29,7.59],[14.34,7.53],[14.38,7.69],[14.44,7.61],[14.61,7.61],[14.72,7.69],[14.62,7.66],[14.78,7.64],[14.84,7.56],[14.74,7.53],[14.54,7.52],[15,7.61],[15.07,7.52],[15.18,7.58],[15.27,7.66],[15.34,7.64],[15.4,7.57],[15.33,7.52],[15.24,7.5],[15.54,7.57],[15.59,7.67],[15.7,7.65],[15.81,7.65],[15.86,7.58],[16.01,7.68],[16.04,7.54],[16.21,7.67],[16.33,7.67],[16.29,7.57],[16.23,7.51],[16.51,7.59],[16.61,7.68],[16.69,7.6],[16.79,7.62],[16.73,7.49],[13.66,7.42],[13.67,7.36],[13.65,7.29],[13.68,7.26],[13.85,7.41],[13.8,7.3],[13.99,7.37],[13.97,7.3],[13.47,7.21],[13.57,7.14],[13.89,7.05],[13.81,7],[14.07,7.28],[14.13,7.27],[14.21,7.27],[14.2,7.23],[14.08,7.15],[14.35,7.12],[14.29,7.45],[14.4,7.46],[14.52,7.44],[14.62,7.46],[14.64,7.41],[14.32,7.36],[14.4,7.36],[14.49,7.33],[14.53,7.36],[14.62,7.3],[14.68,7.32],[14.71,7.23],[14.52,7.26],[14.51,7.23],[14.56,7.19],[14.79,7.45],[14.94,7.47],[14.96,7.43],[15.22,7.35],[15.01,7.33],[15.01,7.29],[15.36,7.38],[15.34,7.32],[15.42,7.31],[15.53,7.42],[15.54,7.29],[15.67,7.37],[15.74,7.3],[15.78,7.45],[15.15,7.28],[15.14,7.21],[15.23,7.23],[15.26,7.22],[14.85,7.25],[14.92,7.23],[14.89,7.2],[14.81,7.18],[14.92,7.11],[15,7.13],[15.03,7.06],[15.06,7.06],[15.18,7.1],[15.2,7.04],[15.23,7.01],[15.48,7.13],[15.71,7.16],[15.97,7.28],[16.01,7.26],[16.11,7.38],[16.21,7.39],[16.28,7.43],[16.3,7.35],[16.38,7.35],[16.62,7.34],[16.18,7.28],[16.19,7.25],[16.53,7.2],[16.71,7.23],[16.9,7.27],[16.09,7.1],[16.18,7.05],[14.57,7.05],[14.37,6.98],[14.59,6.94],[14.78,6.95],[15.03,6.94],[15.15,6.95],[15.31,6.89],[15.53,6.84],[15.66,6.93],[15.77,6.94],[15.66,6.76],[15.53,6.7],[16.27,6.83],[15.11,6.64],[13.77,6.84],[13.75,6.8],[13.97,6.86],[14.04,6.82],[14.2,6.82],[14.25,6.88],[14.68,6.81],[14.68,6.78],[14.85,6.79],[14.87,6.73],[13.55,6.73],[13.59,6.67],[13.57,6.56],[13.91,6.65],[14.15,6.52],[14.21,6.51],[14.41,6.56],[14.5,6.52],[14.73,6.56],[14.69,6.51],[14.74,6.48],[13.7,6.29],[14.23,6.22],[14.37,6.16],[14.97,6.11],[13.85,6],[14.33,6.02],[14.93,5.97],[13.89,5.75],[14.09,5.71],[13.91,5.63]];

const tailSamples=[[26.96,9.98],[26.86,9.97],[27,9.91],[26.81,9.94],[26.65,9.89],[26.81,9.81],[26.87,9.89],[26.68,9.68],[26.41,9.8],[26.33,9.74],[26.03,9.8],[25.71,9.79],[26.18,9.75],[24.96,9.81],[25.09,9.8],[25.41,9.76],[24.52,9.83],[24.61,9.78],[24.76,9.77],[26.45,9.56],[26.39,9.54],[26.29,9.52],[25.78,9.26],[25.98,9.36],[25.58,9.27],[25.42,9.24],[25.09,9.12],[24.85,9.11],[24.69,9.01],[24.58,8.97],[24.52,9.06],[25.19,9.17],[26.08,9.43],[26.16,9.48]];

const seriesBands=[topOutliers,leftUpperBand,leftMiddleBand,leftLowerBand,midUpperBand,midDenseBand,midFillBand,midLowerBand,rightUpperEdge,rightLowerEdge,tailSamples];

const svgNS="http://www.w3.org/2000/svg";
const axisLeft=449.5,axisRight=3124.5,axisTop=174.5,axisBottom=2099.5;
function xScale(v){return axisLeft+(v-10)/(28-10)*(axisRight-axisLeft);}
function yScale(v){return axisBottom-(v-5)/(15-5)*(axisBottom-axisTop);}
function mk(tag,attrs,parent){const el=document.createElementNS(svgNS,tag);for(const k in attrs){el.setAttribute(k,attrs[k]);}parent.appendChild(el);return el;}

const gridG=document.getElementById("grid");
const ticksG=document.getElementById("ticks");
const labelsG=document.getElementById("tick-labels");
xTicks.forEach(function(t,i){
  const px=xScale(t);
  if(t>10&&t<28){
    const g=mk("line",{x1:px,x2:px,y1:axisTop,y2:axisBottom,stroke:"#262626","stroke-opacity":0.15,"stroke-width":8},gridG);
    
    
  }
  const a=mk("line",{x1:px,x2:px,y1:axisBottom,y2:axisBottom-31,stroke:"#262626","stroke-width":8},ticksG);
  
  
  const b=mk("line",{x1:px,x2:px,y1:axisTop,y2:axisTop+30,stroke:"#262626","stroke-width":8},ticksG);
  
  
  const l=mk("text",{x:px+1,y:2212,"font-size":93,"text-anchor":"middle"},labelsG);
  
  
  l.textContent=xTickLabels[i];
});
yTicks.forEach(function(t,i){
  const py=yScale(t);
  if(t>5&&t<15){
    const g=mk("line",{x1:axisLeft,x2:axisRight,y1:py,y2:py,stroke:"#262626","stroke-opacity":0.15,"stroke-width":8},gridG);
    
    
  }
  const a=mk("line",{x1:axisLeft,x2:axisLeft+32,y1:py,y2:py,stroke:"#262626","stroke-width":8},ticksG);
  
  
  const b=mk("line",{x1:axisRight,x2:axisRight-32,y1:py,y2:py,stroke:"#262626","stroke-width":8},ticksG);
  
  
  const l=mk("text",{x:416,y:py+23,"font-size":93,"text-anchor":"end"},labelsG);
  
  
  l.textContent=yTickLabels[i];
});

const coreGain=coreTop.concat(coreBottom);
let coreD="";
coreX.forEach(function(v,i){coreD+=(i?"L":"M")+xScale(v).toFixed(1)+" "+yScale(coreGain[i]).toFixed(1);});
document.getElementById("core").setAttribute("d",coreD+"Z");

const pointsG=document.getElementById("points");
seriesBands.forEach(function(band){
  band.forEach(function(p){
    const c=mk("circle",{cx:xScale(p[0]).toFixed(1),cy:yScale(p[1]).toFixed(1),r:8.7},pointsG);
    
    
  });
});
</script>
</body>
</html>
